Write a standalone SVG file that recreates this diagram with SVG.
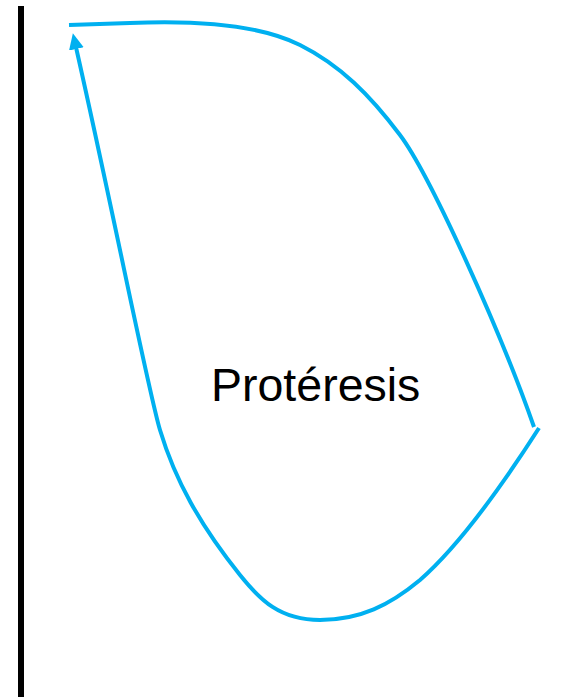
<svg xmlns="http://www.w3.org/2000/svg" width="569" height="697" viewBox="0 0 569 697">
  <style>
    .curve { fill: none; stroke: #00B0F0; stroke-width: 4; stroke-linecap: butt; stroke-linejoin: round; }
    .label { font-family: "Liberation Sans", Arial, sans-serif; font-size: 46.5px; fill: #000000; }
  </style>
  <defs>
    <marker id="arrow" viewBox="0 0 16 15" refX="4" refY="7.5" markerWidth="16" markerHeight="15" markerUnits="userSpaceOnUse" orient="auto">
      <path d="M0,0 L16,7.5 L0,15 z" fill="#00B0F0"/>
    </marker>
  </defs>
  <rect id="axis" x="18" y="6" width="6" height="691" fill="#000000"/>
  <g id="connectors">
    <path id="upper" class="curve" d="M69,25 L130,23 C200,20 260,25 300,45 C340,65 370,95 400,135 C430,175 500,330 534,427"/>
    <path id="lower" class="curve" marker-end="url(#arrow)" d="M539,428 C507,478 460,545 420,580 C390,605 360,620 320,620 C280,620 260,600 240,575 C200,525 175,480 160,430 C148,390 115,220 75.5,45"/>
  </g>
  <g id="label">
    <text class="label" x="211" y="401">Protéresis</text>
  </g>
</svg>
